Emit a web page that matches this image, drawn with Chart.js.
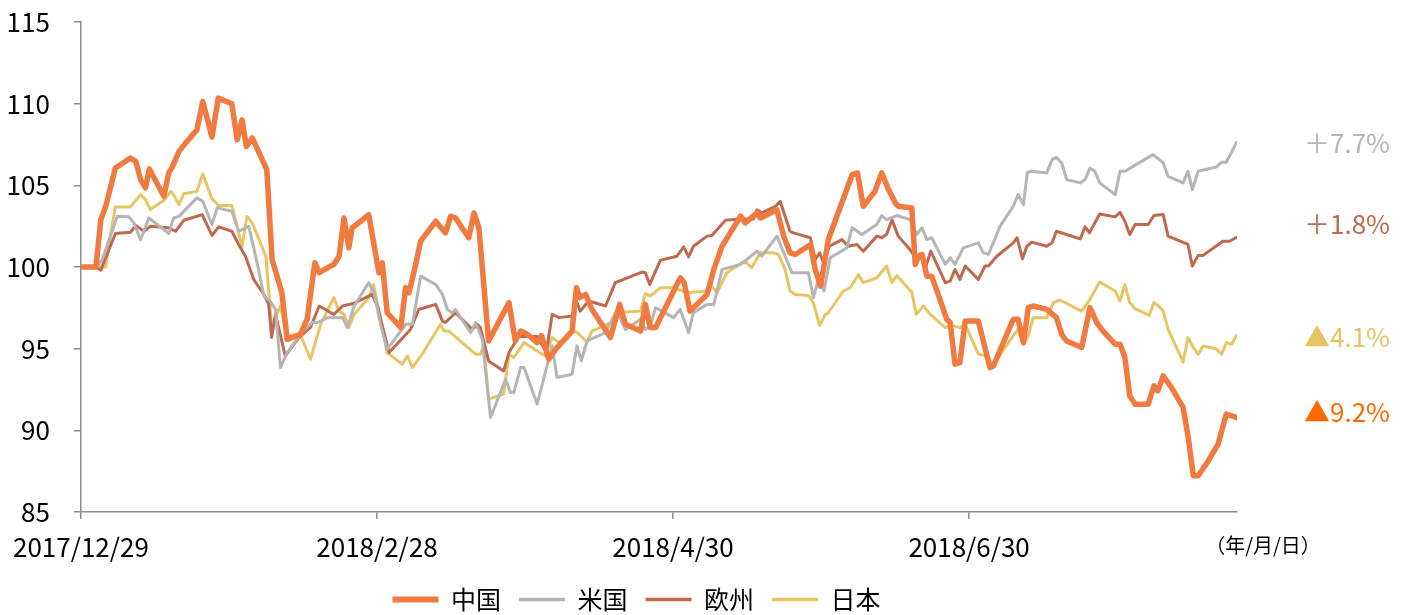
<!DOCTYPE html>
<html>
<head>
<meta charset="utf-8">
<script src="https://cdn.jsdelivr.net/npm/chart.js@4.4.1/dist/chart.umd.min.js"></script>
<style>
  html, body { margin: 0; padding: 0; background: #ffffff; overflow: hidden; }
  #wrap { width: 1405px; height: 615px; }
</style>
</head>
<body>
<div id="wrap"><canvas id="c" width="1405" height="615"></canvas></div>
<script>
// Days since 2017/12/29 and index values (2017/12/29 = 100)
const chinaDays = [0,3.1,4.1,5.1,7.1,10.2,11.3,12.3,13.3,14.1,17.1,18.1,18.8,20.2,21.6,23.9,25.1,27.0,28.3,31.1,32.2,33.2,34.1,35.3,38.3,39.4,41.4,42.5,45.2,46.6,48.2,49.1,52.1,53.2,54.2,55.2,55.9,59.3,61.4,62.1,63.1,65.9,66.9,67.6,68.6,70.0,73.1,75.1,76.2,77.2,79.9,81.0,82.0,84.0,88.2,89.5,90.6,92.0,94.0,94.9,96.4,98.1,101.2,102.1,102.8,104.0,105.3,109.1,111.0,112.2,115.3,116.3,117.3,118.4,123.5,124.3,125.5,129.0,130.4,132.1,135.9,136.9,139.3,140.0,143.4,144.8,146.1,147.2,150.3,151.3,152.4,154.0,158.9,160.0,161.2,163.6,165.0,166.4,167.8,168.4,171.2,171.9,172.6,173.3,174.3,175.3,177.0,178.4,179.1,180.1,181.1,182.2,184.9,187.3,188.0,192.1,193.1,194.2,195.2,196.2,199.0,201.0,202.1,203.1,206.2,207.9,209.3,210.6,213.1,214.1,215.1,216.1,217.2,219.9,221.1,221.9,223.0,224.7,227.1,228.1,229.2,230.2,232.3,234.3,236.0,238.1];
const chinaVals = [100,100,102.9,103.7,106.06,106.67,106.47,105.35,104.84,106.0,104.33,105.76,106.1,107.08,107.6,108.4,110.13,107.96,110.34,109.99,107.79,109.01,107.38,107.9,105.96,100.46,98.43,95.57,95.88,96.8,100.26,99.65,100.16,100.66,103.0,101.17,102.4,103.2,99.65,100.26,97.2,96.29,98.73,98.43,99.65,101.58,102.8,102.09,103.11,103.0,101.79,103.31,102.4,95.47,97.82,95.47,96.08,95.88,95.37,95.8,94.35,95.07,96.08,98.73,98.12,98.32,97.4,95.68,97.71,96.49,96.08,97.71,96.29,96.29,99.34,99.04,97.3,98.32,99.85,101.27,103.11,102.7,103.31,103.0,103.5,101.89,100.87,100.77,101.38,99.85,98.83,101.68,105.65,105.76,103.72,104.63,105.76,104.74,103.93,103.72,103.62,100.16,100.66,100.77,99.44,99.44,98.02,96.8,96.6,94.05,94.15,96.69,96.69,93.84,93.94,96.8,96.8,95.37,97.51,97.61,97.41,96.9,95.88,95.47,95.07,97.51,96.6,96.08,95.27,95.27,94.46,92.11,91.6,91.6,92.72,92.42,93.33,92.62,91.4,89.67,87.22,87.22,88.14,89.16,90.99,90.79];

const usDays = [0,3.3,4.4,7.5,9.9,10.9,12.3,14.0,18.1,19.1,20.2,23.9,25.1,27.0,28.1,31.1,32.5,34.6,36.6,37.7,39.0,40.1,41.1,42.5,45.2,47.6,48.7,50.8,53.9,54.9,56.3,59.3,60.4,61.8,63.1,66.9,68.3,70.0,73.1,74.5,75.5,76.5,77.2,78.9,80.3,81.3,82.7,84.4,87.5,88.5,89.2,90.6,91.3,94.0,97.1,98.1,101.2,102.2,103.1,104.3,108.1,109.1,110.5,112.2,115.3,116.3,117.3,118.4,122.1,123.5,125.2,126.2,129.0,130.4,132.1,135.9,137.2,139.3,140.3,143.4,146.5,149.9,150.9,152.2,153.1,154.4,157.8,158.9,160.9,164.0,165.0,166.0,168.1,170.8,172.2,173.3,174.3,175.3,178.1,179.1,180.1,181.8,184.9,185.9,187.0,189.4,192.1,193.1,194.2,195.0,195.9,199.0,200.1,201.0,202.1,203.1,205.9,206.9,207.9,208.9,209.9,213.1,214.1,215.1,216.8,220.9,223.0,224.0,227.1,228.1,229.0,230.2,233.9,235.0,236.0,238.1];
const usVals = [100,100,100.46,103.1,103.07,102.7,101.68,103.0,102.05,103.0,103.1,104.23,104.02,102.6,103.62,103.41,102.19,102.49,99.85,98.22,97.91,97.4,93.84,94.76,95.88,96.6,96.6,96.9,96.9,96.29,97.61,99.04,98.43,96.39,94.96,96.49,96.49,99.44,98.93,98.32,97.4,97.2,97.4,96.6,95.98,96.6,95.57,90.79,93.13,92.32,92.32,93.84,93.84,91.6,95.17,93.23,93.43,95.17,94.25,95.47,95.98,96.6,97.2,96.18,96.8,96.18,96.39,97.51,96.9,97.4,95.98,97.2,97.71,97.71,99.85,100.16,100.46,100.97,100.66,101.89,99.65,99.65,98.12,99.44,98.53,100.57,101.17,102.4,101.99,102.6,103.15,102.9,103.15,102.9,101.99,102.4,101.68,101.79,100.16,100.57,100.16,101.17,101.48,100.87,100.77,102.5,103.72,104.43,103.82,105.79,105.86,105.76,106.57,106.71,106.37,105.35,105.15,105.35,106.06,105.86,105.15,104.43,105.86,105.86,106.16,106.88,106.37,105.55,105.15,105.86,104.74,105.86,106.12,106.41,106.41,107.63];

const euDays = [0,3.1,4.1,7.1,10.2,11.3,13.0,14.3,18.1,19.5,21.2,25.0,27.0,28.4,31.1,32.5,33.9,35.6,37.7,38.7,39.3,40.1,42.1,44.9,47.3,49.1,52.1,53.9,56.3,60.0,61.1,63.5,67.9,69.6,73.1,74.5,75.1,77.2,80.6,81.7,82.3,84.0,87.1,88.2,90.2,94.0,95.9,97.1,98.5,101.2,102.2,102.9,104.6,108.1,110.1,111.8,115.6,116.3,117.2,119.4,122.8,124.2,125.2,126.2,129.0,130.0,132.8,135.9,138.6,139.3,140.3,143.1,144.1,146.1,146.8,150.3,151.3,152.2,153.0,154.2,156.8,158.1,159.9,161.2,164.0,165.0,166.0,167.1,168.4,170.8,172.2,173.3,173.9,175.1,178.1,179.1,180.1,181.1,182.2,184.9,186.3,187.0,188.7,192.1,192.9,194.0,194.9,195.9,199.0,200.1,201.0,205.9,206.9,207.8,209.9,213.1,214.1,215.1,216.1,217.2,219.9,221.1,223.0,224.0,228.1,229.0,230.2,231.2,235.3,236.7,238.1];
const euVals = [100,100,99.8,102.05,102.13,102.54,102.19,102.49,102.4,102.19,102.86,103.21,101.93,102.46,102.19,101.38,100.66,99.24,98.32,97.71,95.68,97.1,94.55,95.68,96.3,97.61,97.1,97.61,97.78,98.32,97.61,94.76,96.18,97.4,97.71,96.69,96.6,97.2,96.18,96.49,96.29,94.25,93.64,94.76,95.74,95.74,94.8,97.1,96.9,97.0,97.82,97.3,97.92,97.61,99.04,99.24,99.69,99.65,98.93,100.42,100.66,101.23,100.62,101.27,101.89,101.93,102.86,102.94,102.94,103.5,103.31,103.72,104.02,102.19,102.09,101.79,100.46,100.87,100.26,101.27,101.68,101.27,101.38,100.97,101.89,101.79,101.99,102.9,101.89,101.07,100.46,100.77,99.85,100.97,99.04,99.14,99.85,99.24,100.06,99.24,100.06,100.06,100.66,101.48,101.79,100.5,101.27,101.52,101.27,101.48,102.19,101.72,102.46,102.09,103.25,103.07,103.35,102.8,101.99,102.6,102.6,103.15,103.21,101.89,101.38,100.06,100.71,100.71,101.58,101.58,101.82];

const jpDays = [0,5.1,6.4,7.1,10.2,12.3,13.3,14.3,17.1,18.5,19.1,20.2,21.2,23.9,25.1,27.0,28.4,31.1,33.2,34.2,35.3,38.1,39.3,41.1,42.5,45.2,47.3,49.4,52.1,53.2,54.2,55.2,56.3,59.3,60.3,63.1,66.2,67.3,68.3,70.3,74.1,74.8,75.8,81.3,82.3,83.0,84.0,87.1,88.2,89.2,91.3,94.0,95.7,97.1,98.5,101.9,104.3,105.3,109.1,110.1,115.3,116.3,117.3,119.4,122.1,124.9,129.0,130.0,131.1,133.1,136.2,137.2,138.2,140.0,142.7,143.7,145.1,146.1,147.2,149.9,150.9,152.2,153.4,154.0,157.1,158.5,160.2,161.2,164.0,166.0,167.1,168.1,171.2,172.1,173.6,175.0,178.1,179.4,181.1,182.2,184.9,187.0,187.9,189.7,192.1,193.1,194.2,195.2,196.2,199.0,200.4,201.7,206.2,207.9,209.9,213.1,214.1,215.1,216.1,217.2,220.1,221.1,221.9,223.0,224.0,227.1,228.1,229.2,230.2,231.2,233.9,235.0,236.0,237.1,238.1];
const jpVals = [100,100,102.49,103.68,103.68,104.43,104.13,103.52,104.08,104.63,104.43,103.82,104.49,104.63,105.71,104.17,103.76,103.76,101.27,103.1,102.7,100.66,96.39,97.61,95.78,95.88,94.35,96.49,98.12,97.3,97.1,96.29,97.1,98.12,98.93,94.76,94.05,94.55,93.84,94.66,96.49,96.08,96.08,94.66,94.66,95.17,91.91,92.22,94.66,94.46,95.37,94.86,94.55,95.68,95.37,96.08,95.41,96.08,96.6,97.2,97.3,98.38,98.22,98.73,98.73,98.43,98.53,98.83,98.43,99.65,100.26,100.26,99.95,100.87,100.87,100.77,99.85,98.53,98.32,98.26,97.82,96.43,97.1,97.2,98.53,98.73,99.54,99.04,99.34,100.06,99.04,99.48,98.46,97.1,97.61,97.1,96.29,96.43,96.29,96.49,94.66,94.55,93.84,94.76,95.78,96.18,95.27,95.78,96.9,96.9,97.82,97.98,97.3,98.02,99.08,98.53,97.92,98.93,97.82,97.45,97.04,97.82,97.65,97.3,96.18,94.18,95.68,95.07,94.66,95.17,95.0,94.66,95.37,95.27,95.82];

const seriesNames = ['中国', '米国', '欧州', '日本'];
const seriesColors = ['#f07a3f', '#b5b5b5', '#bf6a4e', '#e8c564'];
const seriesWidths = [5.5, 3, 3, 3];

const xTickDays = [0, 61, 122, 183];
const xTickLabels = ['2017/12/29', '2018/2/28', '2018/4/30', '2018/6/30'];
const yTicks = [85, 90, 95, 100, 105, 110, 115];

const noteTexts = ['＋7.7%', '＋1.8%', '▲4.1%', '▲9.2%'];
const noteColors = ['#b5b5b5', '#bf6a4e', '#e6c462', '#ff6a00'];
const noteAnchors = [107.6, 102.6, 95.7, 91.1];
const unitLabel = '（年/月/日）';

const FONT = '"Noto Sans CJK JP", "Noto Sans", sans-serif';

function zip(days, vals) { return days.map((d, i) => ({ x: d, y: vals[i] })); }
const allDays = [chinaDays, usDays, euDays, jpDays];
const allVals = [chinaVals, usVals, euVals, jpVals];

const datasets = seriesNames.map((n, i) => ({
  label: n,
  data: zip(allDays[i], allVals[i]),
  borderColor: seriesColors[i],
  backgroundColor: seriesColors[i],
  borderWidth: seriesWidths[i],
  pointRadius: 0,
  tension: 0,
  borderJoinStyle: 'round',
  borderCapStyle: 'round',
  fill: false
}));

const notesPlugin = {
  id: 'notes',
  afterLayout(chart) {
    // shift the legend slightly right to match the original placement
    if (chart.legend) { chart.legend.left += 18; chart.legend.right += 18; }
  },
  afterDraw(chart) {
    const { ctx, chartArea, scales } = chart;
    ctx.save();
    ctx.font = '26px ' + FONT;
    ctx.textAlign = 'left';
    ctx.textBaseline = 'middle';
    noteTexts.forEach((t, i) => {
      ctx.fillStyle = noteColors[i];
      ctx.fillText(t, chartArea.right + 67, scales.y.getPixelForValue(noteAnchors[i]));
    });
    ctx.fillStyle = '#000';
    ctx.font = '20px ' + FONT;
    ctx.textAlign = 'center';
    ctx.fillText(unitLabel, chartArea.right + 26, chartArea.bottom + 33);
    ctx.restore();
  }
};

new Chart(document.getElementById('c'), {
  type: 'line',
  data: { datasets },
  options: {
    responsive: false,
    animation: false,
    devicePixelRatio: 1,
    layout: { padding: { left: 0, right: 168, top: 22, bottom: -7 } },
    plugins: {
      tooltip: { enabled: false },
      legend: {
        position: 'bottom',
        labels: {
          font: { family: FONT, size: 25 },
          color: '#000',
          boxWidth: 46,
          boxHeight: 0,
          padding: 18,
          generateLabels(chart) {
            return chart.data.datasets.map((ds, i) => ({
              text: ds.label,
              fillStyle: ds.borderColor,
              strokeStyle: ds.borderColor,
              lineWidth: i === 0 ? 6 : 3.5,
              lineCap: 'round',
              hidden: false,
              datasetIndex: i
            }));
          }
        }
      }
    },
    scales: {
      x: {
        type: 'linear',
        min: 0,
        max: 238.2,
        afterBuildTicks(s) { s.ticks = xTickDays.map(v => ({ value: v })); },
        afterFit(s) { s.height = 57; },
        ticks: {
          autoSkip: false,
          maxRotation: 0,
          padding: 13,
          color: '#000',
          font: { family: FONT, size: 26 },
          callback(v) { const k = xTickDays.indexOf(v); return k >= 0 ? xTickLabels[k] : ''; }
        },
        grid: { drawOnChartArea: false, drawTicks: true, tickLength: 7, color: '#8c8c8c', lineWidth: 1.5 },
        border: { display: true, color: '#8c8c8c', width: 1.5 }
      },
      y: {
        min: 85,
        max: 115,
        afterBuildTicks(s) { s.ticks = yTicks.map(v => ({ value: v })); },
        afterFit(s) { s.width = 80; s.paddingTop = 0; s.paddingBottom = 0; },
        ticks: {
          padding: 24,
          color: '#000',
          font: { family: FONT, size: 26 }
        },
        grid: { drawOnChartArea: false, drawTicks: true, tickLength: 7, color: '#8c8c8c', lineWidth: 1.5 },
        border: { display: true, color: '#8c8c8c', width: 1.5 }
      }
    }
  },
  plugins: [notesPlugin]
});
</script>
</body>
</html>
